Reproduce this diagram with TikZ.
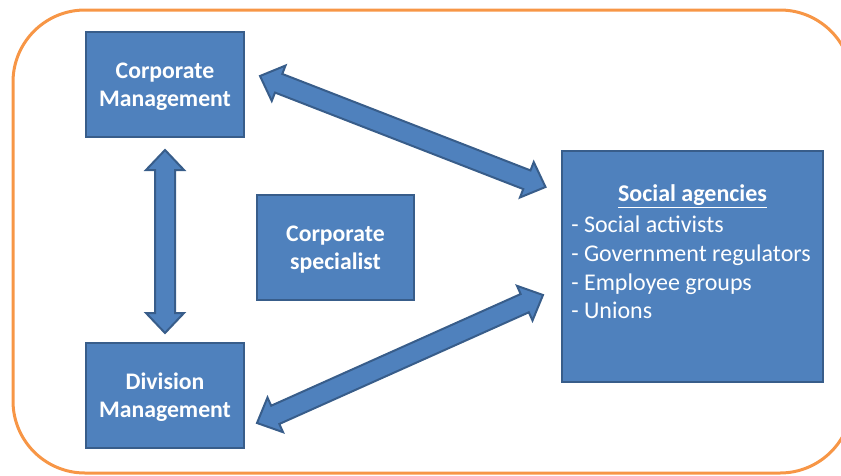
\documentclass[tikz,border=0pt]{standalone}
\usepackage{fontspec}
\setmainfont{Carlito}
\usetikzlibrary{calc}
\definecolor{boxfill}{HTML}{4F81BD}
\definecolor{boxline}{HTML}{385D8A}
\definecolor{frameorange}{HTML}{F79646}
\tikzset{
  box/.style={draw=boxline, fill=boxfill, line width=1.5pt, inner sep=0pt,
    text=white, align=center, font=\fontsize{17.8pt}{21pt}\selectfont\bfseries},
  boxtext/.style={text=white, inner sep=0pt, align=center,
    font=\fontsize{17.8pt}{21pt}\selectfont\bfseries},
  blockarrow/.style={draw=boxline, fill=boxfill, line width=1.5pt, line join=miter},
  frame/.style={draw=frameorange, line width=2.25pt, rounded corners=54pt},
  listtext/.style={text=white, inner sep=0pt, align=left,
    font=\fontsize{18pt}{21.4pt}\selectfont},
  titletext/.style={text=white, inner sep=0pt,
    font=\fontsize{18pt}{21.4pt}\selectfont\bfseries}
}
\newcommand\dblblockarrow[2]{%
  \draw[blockarrow] (#1)
   -- ($(#1)!15pt!(#2)!14.25pt!90:(#2)$)
   -- ($(#1)!15pt!(#2)!7.5pt!90:(#2)$)
   -- ($(#2)!15pt!(#1)!7.5pt!-90:(#1)$)
   -- ($(#2)!15pt!(#1)!14.25pt!-90:(#1)$)
   -- (#2)
   -- ($(#2)!15pt!(#1)!14.25pt!90:(#1)$)
   -- ($(#2)!15pt!(#1)!7.5pt!90:(#1)$)
   -- ($(#1)!15pt!(#2)!7.5pt!-90:(#2)$)
   -- ($(#1)!15pt!(#2)!14.25pt!-90:(#2)$)
   -- cycle;}
\begin{document}
\begin{tikzpicture}[x=0.75pt,y=-0.75pt]
\clip (0,0) rectangle (841,475);
\useasboundingbox (0,0) rectangle (841,475);
\draw[frame] (13,10) rectangle (852,473);

\node[box, minimum width=118.5pt, minimum height=78.75pt] (cm) at (165,84.5) {};
\node[boxtext] (cmtext) at (165,86.5) {Corporate\\Management};
\node[box, minimum width=117.75pt, minimum height=78.75pt] (cs) at (335.5,247.5) {};
\node[boxtext] (cstext) at (335.5,249.5) {Corporate\\specialist};
\node[box, minimum width=118.5pt, minimum height=78.75pt] (dm) at (165,395.5) {};
\node[boxtext] (dmtext) at (165,397.5) {Division\\Management};
\node[box, minimum width=195.75pt, minimum height=173.25pt] (sa) at (692.5,266.5) {};
\node[titletext] (satitle) at (692.5,196) {\underline{Social agencies}};
\node[listtext, anchor=west] (salist) at (571,267.5) {- Social activists\\- Government regulators\\- Employee groups\\- Unions};

\coordinate (vtop) at (165,150);
\coordinate (vbot) at (165,333);
\coordinate (utl) at (260,76);
\coordinate (utr) at (545.5,187);
\coordinate (ltl) at (257,423);
\coordinate (ltr) at (543,295);

\dblblockarrow{vtop}{vbot}
\dblblockarrow{utl}{utr}
\dblblockarrow{ltl}{ltr}
\end{tikzpicture}
\end{document}
